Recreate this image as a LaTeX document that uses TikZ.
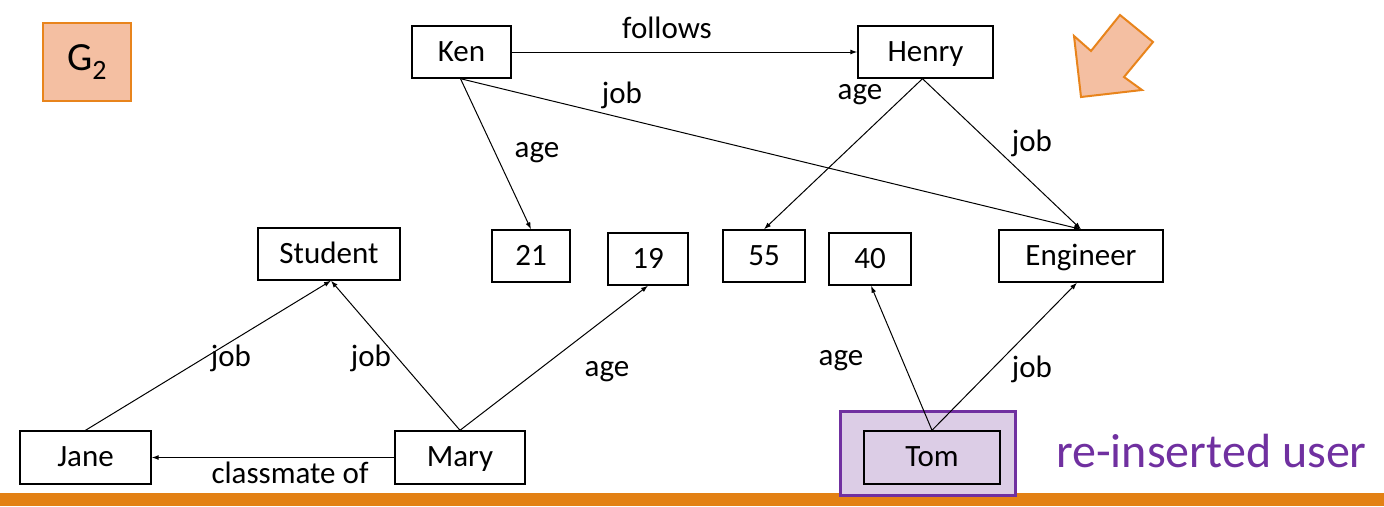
\documentclass[tikz,border=0pt]{standalone}
\usepackage{fontspec}
\setmainfont{Carlito}
\usetikzlibrary{arrows.meta}
\definecolor{orbar}{HTML}{E38114}
\definecolor{orfill}{HTML}{F4BFA2}
\definecolor{orline}{HTML}{E8841C}
\definecolor{purp}{HTML}{7030A0}
\definecolor{purfill}{HTML}{DCCDE6}
\begin{document}
\begin{tikzpicture}[x=1pt,y=-1pt,
  box/.style={draw=black,line width=1.4pt,inner sep=0pt,font=\fontsize{31}{34}\selectfont,text height=21pt,text depth=3pt},
  edge/.style={line width=1pt,-{Latex[length=7pt,width=5pt]}},
  lab/.style={font=\fontsize{31}{34}\selectfont,inner sep=0pt}]
\useasboundingbox (0,0) rectangle (1384,506);
\fill[orbar] (0,493) rectangle (1384,506);
% G2
\node[draw=orline,fill=orfill,line width=2pt,minimum width=88pt,minimum height=78pt,inner sep=0pt,font=\fontsize{40}{42}\selectfont] (g2) at (87,62) {G\textsubscript{2}};
% arrow
\filldraw[draw=orline,fill=orfill,line width=2pt,line join=miter] (1120,15) -- (1153,42) -- (1124,77) -- (1142,90) -- (1081,97) -- (1074,36) -- (1091,51) -- cycle;
% purple box
\node[draw=purp,fill=purfill,line width=3pt,minimum width=175pt,minimum height=84pt] (tombg) at (928,453.5) {};
% nodes
\node[box,minimum width=99pt,minimum height=52pt] (ken) at (461.5,52) {Ken};
\node[box,minimum width=135pt,minimum height=52pt] (henry) at (925.5,52) {Henry};
\node[box,minimum width=142pt,minimum height=52pt] (student) at (329,254) {Student};
\node[box,minimum width=78pt,minimum height=52pt] (n21) at (531,256) {21};
\node[box,minimum width=80pt,minimum height=52pt] (n19) at (648,259) {19};
\node[box,minimum width=82pt,minimum height=52pt] (n55) at (764,256) {55};
\node[box,minimum width=82pt,minimum height=52pt] (n40) at (870,259) {40};
\node[box,minimum width=164pt,minimum height=52pt] (eng) at (1081,256) {Engineer};
\node[box,minimum width=131pt,minimum height=53pt] (jane) at (85.5,457.5) {Jane};
\node[box,minimum width=130pt,minimum height=53pt] (mary) at (460,457.5) {Mary};
\node[box,minimum width=136pt,minimum height=53pt] (tom) at (932,457.5) {Tom};
\node[font=\fontsize{48}{52}\selectfont,text=purp,inner sep=0pt,anchor=west] (lbl) at (1056,451) {re-inserted user};
% edges
\draw[edge] (ken.east) -- (henry.west);
\draw[edge] ([xshift=-1pt]ken.south) -- (n21.north);
\draw[edge] ([xshift=-1pt]ken.south) -- (eng.north);
\draw[edge] ([xshift=-3pt]henry.south) -- (n55.north);
\draw[edge] ([xshift=-3pt]henry.south) -- (eng.north);
\draw[edge] (jane.north) -- ([xshift=2pt]student.south);
\draw[edge] (mary.north) -- ([xshift=2pt]student.south);
\draw[edge] (mary.north) -- (n19.south);
\draw[edge] (mary.west) -- (jane.east);
\draw[edge] (tom.north) -- ([xshift=1pt]n40.south);
\draw[edge] (tom.north) -- ([xshift=-4pt]eng.south);
% labels
\node[lab] (l1) at (667,28) {follows};
\node[lab] (l2) at (537,153) {age};
\node[lab] (l3) at (622,95) {job};
\node[lab] (l4) at (860,95) {age};
\node[lab] (l5) at (1032,143) {job};
\node[lab] (l6) at (231,358) {job};
\node[lab] (l7) at (371,358) {job};
\node[lab] (l8) at (607,372) {age};
\node[lab] (l9) at (290,473) {classmate of};
\node[lab] (l10) at (841,361) {age};
\node[lab] (l11) at (1032,369) {job};
\end{tikzpicture}
\end{document}
